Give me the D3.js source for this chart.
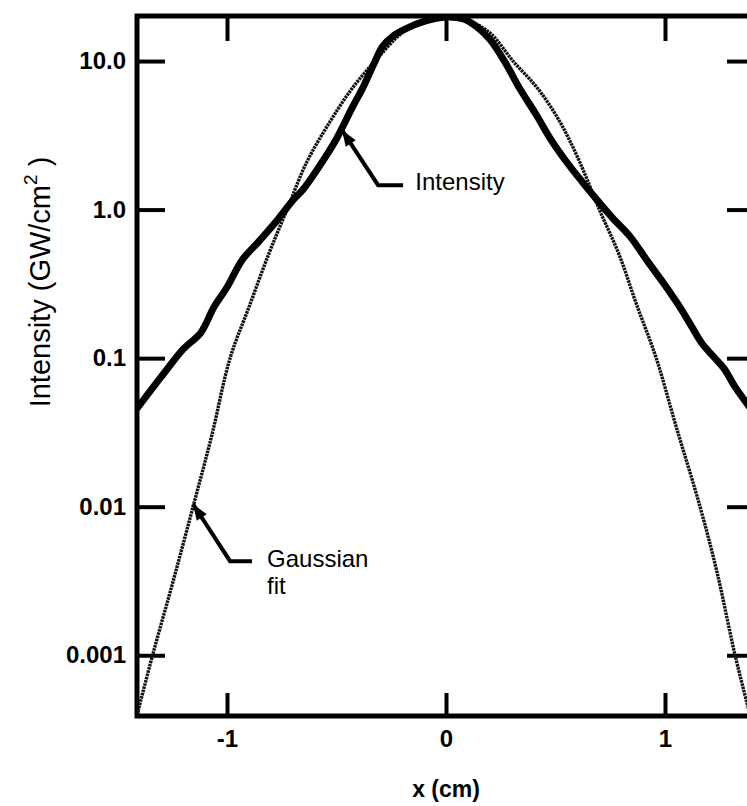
<!DOCTYPE html>
<html>
<head>
<meta charset="utf-8">
<script src="https://cdn.jsdelivr.net/npm/d3@7"></script>
<style>
    body { margin: 0; background: #fff; }
    svg { display: block; font-family: "Liberation Sans", Arial, Helvetica, sans-serif; }
</style>
</head>
<body>
<svg id="chart" width="747" height="806"></svg>
<script>
// Measured beam profile (x in cm, intensity in GW/cm2)
var intensityX = [-1.41, -1.30, -1.20, -1.12, -1.06, -1.00, -0.93, -0.85, -0.77, -0.70,
    -0.65, -0.56, -0.50, -0.43, -0.38, -0.33, -0.29, -0.24, -0.18, -0.10,
    0.00, 0.08, 0.14, 0.20, 0.27, 0.34, 0.41, 0.48, 0.55, 0.62,
    0.69, 0.76, 0.84, 0.92, 1.00, 1.06, 1.12, 1.17, 1.22, 1.27, 1.32, 1.41];
var intensityY = [0.046, 0.075, 0.115, 0.148, 0.22, 0.30, 0.46, 0.62, 0.85, 1.15,
    1.38, 2.15, 3.0, 4.8, 6.6, 9.5, 12.5, 14.8, 16.6, 18.5,
    19.8, 19.2, 17.0, 14.0, 9.8, 6.4, 4.4, 2.95, 2.1, 1.55,
    1.16, 0.88, 0.66, 0.45, 0.31, 0.23, 0.165, 0.125, 0.103, 0.085, 0.064, 0.042];

// Gaussian fit
var gaussX = [-1.41, -1.34, -1.25, -1.155, -1.07, -0.986, -0.90, -0.81, -0.726, -0.635,
    -0.53, -0.43, -0.324, -0.20, -0.10, 0.00, 0.10, 0.20, 0.306, 0.42,
    0.52, 0.61, 0.70, 0.79, 0.87, 0.96, 1.05, 1.16, 1.24, 1.32, 1.41];
var gaussY = [0.00040, 0.0010, 0.0030, 0.010, 0.030, 0.10, 0.22, 0.50, 1.0, 2.1,
    3.9, 6.5, 10.0, 15.5, 18.8, 20.0, 18.8, 15.5, 10.0, 6.5,
    3.9, 2.1, 1.0, 0.50, 0.23, 0.10, 0.035, 0.010, 0.0035, 0.0010, 0.00030];

var xTicks = [-1, 0, 1];
var xTickLabels = ["-1", "0", "1"];
var yTicks = [10, 1, 0.1, 0.01, 0.001];
var yTickLabels = ["10.0", "1.0", "0.1", "0.01", "0.001"];

var svg = d3.select("#chart");

var margin = {top: 16, left: 137, bottom: 716, right: 755};

var x = d3.scaleLinear()
    .domain([-1.411, 1.411])
    .range([margin.left, margin.right]);

var y = d3.scaleLog()
    .domain([0.00039, 20.1])
    .range([margin.bottom, margin.top]);

svg.append("defs").append("clipPath")
    .attr("id", "plotclip")
    .append("rect")
    .attr("x", margin.left)
    .attr("y", margin.top)
    .attr("width", margin.right - margin.left)
    .attr("height", margin.bottom - margin.top);

//Axes, ticks pointing inward on all four sides
function styleAxis(g) {
    g.select(".domain").remove();
    g.selectAll(".tick line")
        .attr("stroke", "#000")
        .attr("stroke-width", 4);
    g.selectAll(".tick text")
        .attr("fill", "#000")
        .attr("font-size", 24)
        .attr("font-weight", "bold");
}

svg.append("g")
    .attr("transform", "translate(" + margin.left + ",0)")
    .call(d3.axisLeft(y).tickValues(yTicks).tickSize(-28).tickPadding(11)
        .tickFormat(function(d, i) { return yTickLabels[i]; }))
    .call(styleAxis);

svg.append("g")
    .attr("transform", "translate(" + margin.right + ",0)")
    .call(d3.axisRight(y).tickValues(yTicks).tickSize(-28).tickFormat(""))
    .call(styleAxis);

svg.append("g")
    .attr("transform", "translate(0," + margin.bottom + ")")
    .call(d3.axisBottom(x).tickValues(xTicks).tickSize(-23).tickPadding(14)
        .tickFormat(function(d, i) { return xTickLabels[i]; }))
    .call(styleAxis);

svg.append("g")
    .attr("transform", "translate(0," + margin.top + ")")
    .call(d3.axisTop(x).tickValues(xTicks).tickSize(-25).tickFormat(""))
    .call(styleAxis);

// frame
svg.append("rect")
    .attr("x", margin.left)
    .attr("y", margin.top)
    .attr("width", margin.right - margin.left)
    .attr("height", margin.bottom - margin.top)
    .attr("fill", "none")
    .attr("stroke", "#000")
    .attr("stroke-width", 5);

var line = d3.line()
    .x(function(d) { return x(d[0]); })
    .y(function(d) { return y(d[1]); })
    .curve(d3.curveCatmullRom.alpha(0.5));

var plot = svg.append("g")
    .attr("clip-path", "url(#plotclip)");

plot.append("path")
    .datum(d3.zip(gaussX, gaussY))
    .attr("fill", "none")
    .attr("stroke", "#111")
    .attr("stroke-width", 3.4)
    .attr("stroke-dasharray", "2.5 0.8")
    .attr("d", line);

plot.append("path")
    .datum(d3.zip(intensityX, intensityY))
    .attr("fill", "none")
    .attr("stroke", "#000")
    .attr("stroke-width", 7)
    .attr("stroke-linejoin", "round")
    .attr("stroke-linecap", "round")
    .attr("d", line);

//Annotations with elbow arrows
function annotate(pts, labels, lx, ly) {
    var p = pts.map(function(d) { return [x(d[0]), y(d[1])]; });
    svg.append("path")
        .attr("d", d3.line()([p[2], p[1], p[0]]))
        .attr("fill", "none")
        .attr("stroke", "#000")
        .attr("stroke-width", 4);
    // arrow head at the tip
    var ang = Math.atan2(p[0][1] - p[1][1], p[0][0] - p[1][0]);
    var len = 16, half = 6;
    var bx = p[0][0] - len * Math.cos(ang), by = p[0][1] - len * Math.sin(ang);
    svg.append("path")
        .attr("d", "M" + p[0][0] + "," + p[0][1] +
            "L" + (bx + half * Math.sin(ang)) + "," + (by - half * Math.cos(ang)) +
            "L" + (bx - half * Math.sin(ang)) + "," + (by + half * Math.cos(ang)) + "Z")
        .attr("fill", "#000");
    labels.forEach(function(t, i) {
        svg.append("text")
            .attr("x", x(lx))
            .attr("y", y(ly[i]))
            .attr("font-size", 24)
            .attr("fill", "#000")
            .text(t);
    });
}

annotate([[-0.475, 3.43], [-0.31, 1.46], [-0.196, 1.46]], ["Intensity"], -0.14, [1.35]);
annotate([[-1.155, 0.0104], [-0.986, 0.0043], [-0.886, 0.0043]], ["Gaussian", "fit"], -0.817, [0.0039, 0.00258]);

// axis titles
svg.append("text")
    .attr("x", x(0))
    .attr("y", 797)
    .attr("text-anchor", "middle")
    .attr("font-size", 23)
    .attr("font-weight", "bold")
    .text("x (cm)");

var ylab = svg.append("text")
    .attr("transform", "translate(50,282) rotate(-90)")
    .attr("text-anchor", "middle")
    .attr("font-size", 29);
ylab.append("tspan").text("Intensity (GW/cm");
ylab.append("tspan").attr("font-size", 19).attr("dy", -13).text("2");
ylab.append("tspan").attr("dy", 13).text(" )");
</script>
</body>
</html>
